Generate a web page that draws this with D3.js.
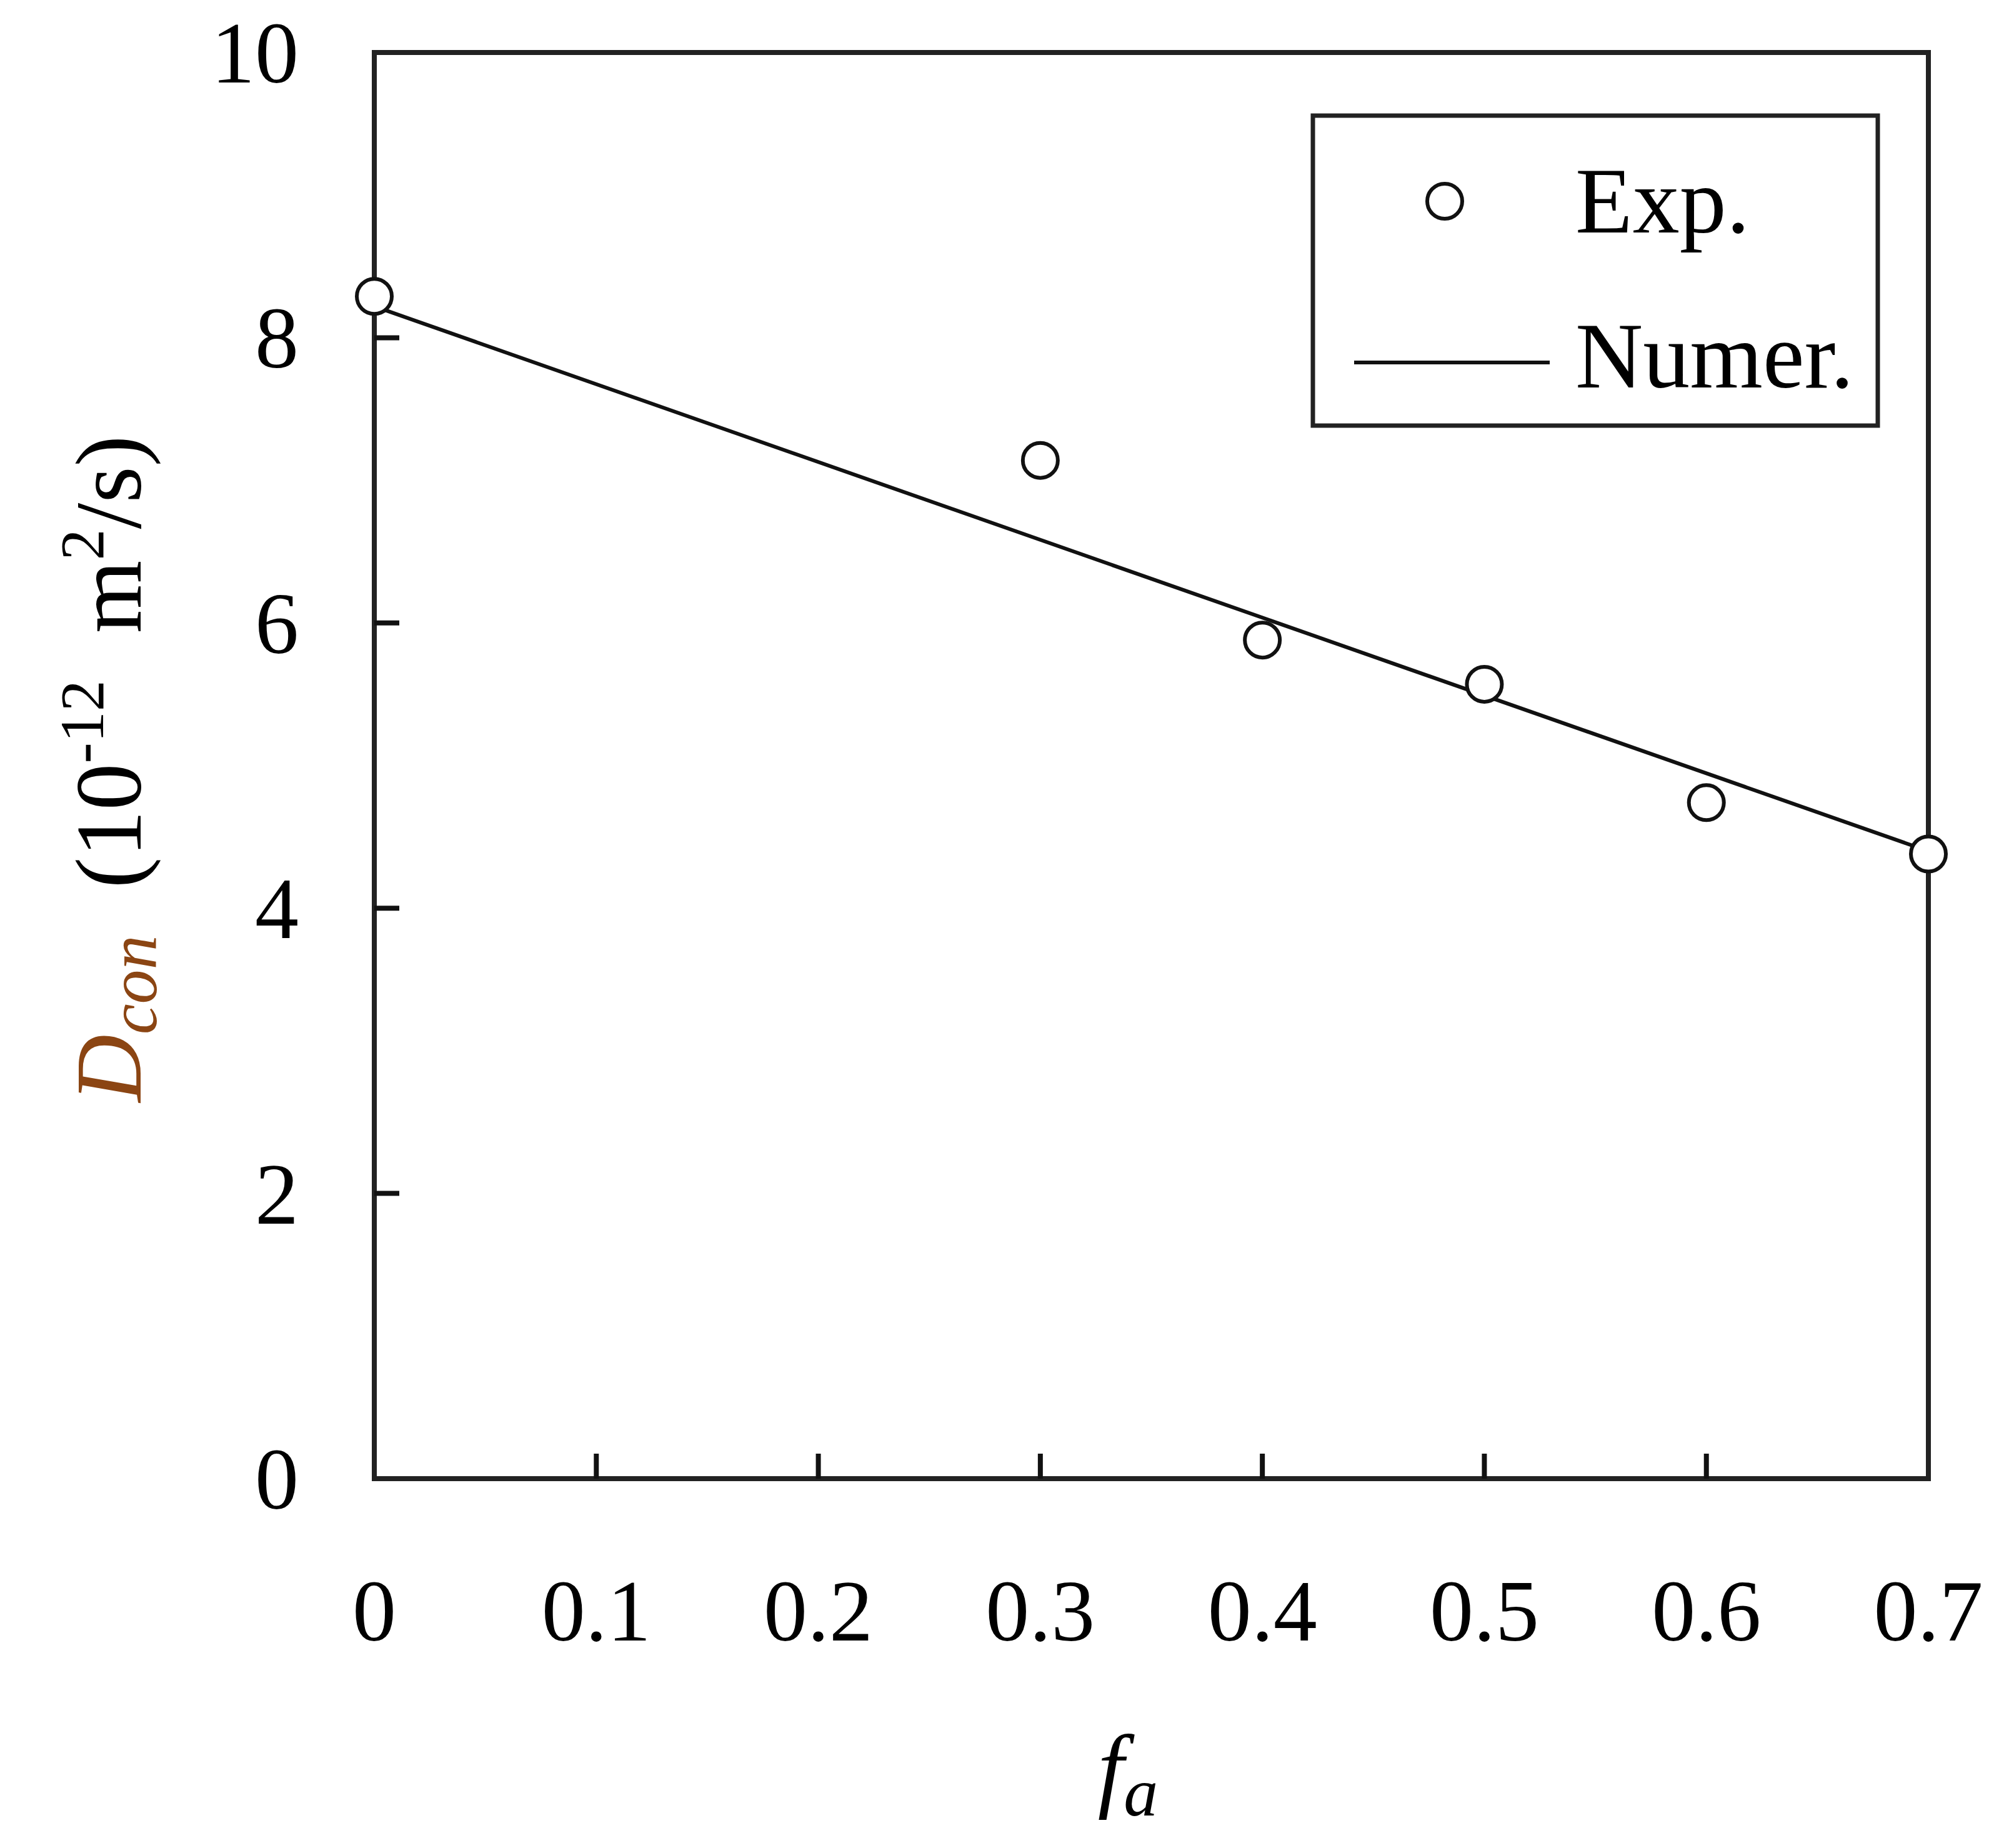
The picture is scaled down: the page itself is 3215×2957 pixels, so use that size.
<!DOCTYPE html>
<html><head><meta charset="utf-8">
<script src="https://cdn.jsdelivr.net/npm/d3@7"></script>
<style>body{margin:0;background:#fff}</style>
</head><body>
<script>
// data
var expX = [0, 0.3, 0.4, 0.5, 0.6, 0.7];
var expY = [8.29, 7.14, 5.88, 5.57, 4.74, 4.38];
var numX = [0, 0.7];
var numY = [8.22, 4.40];
var xTicks = [0, 0.1, 0.2, 0.3, 0.4, 0.5, 0.6, 0.7];
var yTicks = [0, 2, 4, 6, 8, 10];

var W = 3215, H = 2957;
var pLeft = 599, pRight = 3086, pTop = 84, pBottom = 2366;
var font = "'Liberation Serif','Times New Roman',serif";

var svg = d3.select("body").append("svg").attr("width", W).attr("height", H);
var x = d3.scaleLinear().domain([0, 0.7]).range([pLeft, pRight]);
var y = d3.scaleLinear().domain([0, 10]).range([pBottom, pTop]);

// frame
svg.append("rect").attr("x", pLeft).attr("y", pTop)
    .attr("width", pRight - pLeft).attr("height", pBottom - pTop)
    .attr("fill", "none").attr("stroke", "#222").attr("stroke-width", 8);

// inward ticks
svg.append("g").selectAll("line").data(xTicks.slice(1, -1)).enter().append("line")
    .attr("x1", d => x(d)).attr("x2", d => x(d))
    .attr("y1", pBottom).attr("y2", pBottom - 40)
    .attr("stroke", "#111").attr("stroke-width", 8);
svg.append("g").selectAll("line").data(yTicks.slice(1, -1)).enter().append("line")
    .attr("x1", pLeft).attr("x2", pLeft + 40)
    .attr("y1", d => y(d)).attr("y2", d => y(d))
    .attr("stroke", "#111").attr("stroke-width", 8);

// tick labels
svg.append("g").selectAll("text").data(xTicks).enter().append("text")
    .attr("x", d => x(d)).attr("y", 2625)
    .attr("text-anchor", "middle").attr("font-family", font).attr("font-size", 140)
    .text(d => d === 0 ? "0" : d3.format(".1f")(d));
svg.append("g").selectAll("text").data(yTicks).enter().append("text")
    .attr("x", 478).attr("y", d => y(d) + 48)
    .attr("text-anchor", "end").attr("font-family", font).attr("font-size", 140)
    .text(d => d);

// axis titles
var xt = svg.append("text").attr("x", 1805).attr("y", 2880)
    .attr("text-anchor", "middle").attr("font-family", font).attr("font-size", 150)
    .attr("font-style", "italic");
xt.append("tspan").text("f");
xt.append("tspan").attr("font-size", 110).attr("dy", 25).text("a");

var yt = svg.append("text").attr("transform", "translate(225,1230) rotate(-90)")
    .attr("text-anchor", "middle").attr("font-family", font).attr("font-size", 150);
yt.append("tspan").attr("font-style", "italic").attr("fill", "#8b4513").text("D");
yt.append("tspan").attr("font-style", "italic").attr("fill", "#8b4513").attr("font-size", 110).attr("dy", 25).text("con");
yt.append("tspan").attr("dy", -25).text("\u2002(10");
yt.append("tspan").attr("font-size", 100).attr("dy", -60).text("-12");
yt.append("tspan").attr("dy", 60).text("\u2002m");
yt.append("tspan").attr("font-size", 100).attr("dy", -60).text("2");
yt.append("tspan").attr("dy", 60).text("/s)");

// numerical line
svg.append("path").datum(numX.map((d, i) => [d, numY[i]]))
    .attr("d", d3.line().x(d => x(d[0])).y(d => y(d[1])))
    .attr("fill", "none").attr("stroke", "#111").attr("stroke-width", 6);

// experimental points
svg.append("g").selectAll("circle").data(expX.map((d, i) => [d, expY[i]])).enter().append("circle")
    .attr("cx", d => x(d[0])).attr("cy", d => y(d[1])).attr("r", 28)
    .attr("fill", "#fff").attr("stroke", "#111").attr("stroke-width", 6);

// legend
var lg = svg.append("g");
lg.append("rect").attr("x", 2101).attr("y", 185).attr("width", 904).attr("height", 496)
    .attr("fill", "#fff").attr("stroke", "#222").attr("stroke-width", 7);
lg.append("circle").attr("cx", 2312).attr("cy", 322).attr("r", 28)
    .attr("fill", "#fff").attr("stroke", "#111").attr("stroke-width", 6);
lg.append("text").attr("x", 2521).attr("y", 372).attr("font-family", font).attr("font-size", 150).text("Exp.");
lg.append("line").attr("x1", 2167).attr("x2", 2480).attr("y1", 580).attr("y2", 580)
    .attr("stroke", "#111").attr("stroke-width", 6);
lg.append("text").attr("x", 2521).attr("y", 620).attr("font-family", font).attr("font-size", 150).text("Numer.");
</script>
</body></html>
